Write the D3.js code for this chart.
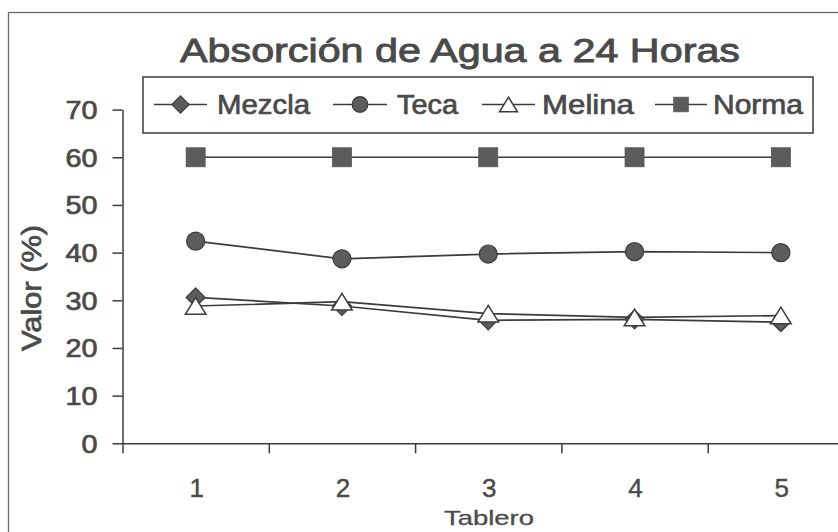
<!DOCTYPE html>
<html>
<head>
<meta charset="utf-8">
<script src="https://cdn.jsdelivr.net/npm/d3@7"></script>
<style>
  html, body { margin: 0; padding: 0; background: #fff; }
  svg { display: block; }
  text { font-family: "Liberation Sans", Arial, sans-serif; fill: #4a4a4a; stroke: #4a4a4a; stroke-width: 0.7px; }
</style>
</head>
<body>
<svg id="chart" width="838" height="532"></svg>
<script>
// Data
const categories = ["1", "2", "3", "4", "5"];
const seriesNames = ["Mezcla", "Teca", "Melina", "Norma"];
const mezcla = [30.6, 28.8, 25.8, 26.0, 25.4];
const teca   = [42.4, 38.7, 39.7, 40.2, 40.0];
const melina = [28.8, 29.7, 27.2, 26.4, 26.8];
const norma  = [60, 60, 60, 60, 60];
const yTicks = [0, 10, 20, 30, 40, 50, 60, 70];
const titleText = "Absorción de Agua a 24 Horas";
const xTitle = "Tablero";
const yTitle = "Valor (%)";

const seriesValues = [mezcla, teca, melina, norma];
const markers = ["diamond", "circle", "triangle", "square"];

const svg = d3.select("#chart");
const ink = "#3c3c3c";
const markFill = "#5c5c5c";

// outer chart frame
svg.append("rect")
  .attr("x", 8.5).attr("y", 12.5)
  .attr("width", 900).attr("height", 600)
  .attr("fill", "none").attr("stroke", "#6a6a6a").attr("stroke-width", 1.3);

// scales
const plotLeft = 122.5, plotRight = 854, plotTop = 109.6, plotBottom = 443.3;
const x = d3.scaleBand().domain(categories).range([plotLeft, plotRight]).padding(0);
const y = d3.scaleLinear().domain([0, 70]).range([plotBottom, plotTop]);
const cx = c => x(c) + x.bandwidth() / 2;

// title
svg.append("text")
  .attr("x", 180).attr("y", 62)
  .attr("font-size", 34)
  .attr("textLength", 560).attr("lengthAdjust", "spacingAndGlyphs")
  .style("stroke-width", "0.9px")
  .text(titleText);

// y axis
const yAxis = svg.append("g")
  .attr("transform", `translate(${plotLeft},0)`)
  .call(d3.axisLeft(y).tickValues(yTicks).tickSize(10).tickSizeOuter(0).tickPadding(15));
yAxis.select(".domain").attr("stroke", ink).attr("stroke-width", 1.5);
yAxis.selectAll(".tick line").attr("stroke", ink).attr("stroke-width", 1.5);
yAxis.selectAll(".tick text")
  .attr("font-size", 25)
  .attr("fill", "#4a4a4a")
  .attr("font-family", "Liberation Sans, Arial, sans-serif")
  .attr("dy", "0.36em")
  .attr("textLength", d => String(d).length * 16)
  .attr("lengthAdjust", "spacingAndGlyphs");

// x axis: line with ticks at category boundaries, labels centered in bands
const bounds = d3.scaleLinear().domain([0, categories.length]).range([plotLeft, plotRight]);
const xAxis = svg.append("g")
  .attr("transform", `translate(0,${plotBottom})`)
  .call(d3.axisBottom(bounds).tickValues(d3.range(0, categories.length + 1)).tickSize(10).tickSizeOuter(0).tickFormat(""));
xAxis.select(".domain").attr("stroke", ink).attr("stroke-width", 1.5);
xAxis.selectAll(".tick line").attr("stroke", ink).attr("stroke-width", 1.5);

svg.append("g").selectAll("text")
  .data(categories)
  .join("text")
  .attr("x", d => cx(d) + 1)
  .attr("y", 497)
  .attr("text-anchor", "middle")
  .attr("font-size", 26)
  .style("stroke-width", "0.4px")
  .text(d => d);

// axis titles
svg.append("text")
  .attr("x", 489).attr("y", 525)
  .attr("text-anchor", "middle")
  .attr("font-size", 21)
  .attr("textLength", 90).attr("lengthAdjust", "spacingAndGlyphs")
  .style("stroke-width", "0.3px")
  .text(xTitle);

svg.append("text")
  .attr("transform", "translate(41,288) rotate(-90)")
  .attr("text-anchor", "middle")
  .attr("font-size", 28)
  .attr("textLength", 126).attr("lengthAdjust", "spacingAndGlyphs")
  .text(yTitle);

// marker drawing
function drawMarker(g, type, px, py, s) {
  if (type === "diamond") {
    g.append("path")
      .attr("d", `M${px},${py - s}L${px + s},${py}L${px},${py + s}L${px - s},${py}Z`)
      .attr("fill", markFill).attr("stroke", ink).attr("stroke-width", 1.2);
  } else if (type === "circle") {
    g.append("circle").attr("cx", px).attr("cy", py).attr("r", s * 0.95)
      .attr("fill", markFill).attr("stroke", ink).attr("stroke-width", 1.2);
  } else if (type === "triangle") {
    const h = s * 1.7, w = s * 1.05;
    g.append("path")
      .attr("d", `M${px},${py - h / 2}L${px + w},${py + h / 2}L${px - w},${py + h / 2}Z`)
      .attr("fill", "#fff").attr("stroke", ink).attr("stroke-width", 1.5);
  } else {
    g.append("rect").attr("x", px - s).attr("y", py - s).attr("width", 2 * s).attr("height", 2 * s)
      .attr("fill", markFill).attr("stroke", "#555").attr("stroke-width", 0.8);
  }
}

// series lines and markers
const line = d3.line().x((d, i) => cx(categories[i])).y(d => y(d));
seriesValues.forEach((vals, k) => {
  const g = svg.append("g");
  g.append("path").datum(vals)
    .attr("d", line)
    .attr("fill", "none").attr("stroke", ink).attr("stroke-width", 1.7);
  const size = markers[k] === "square" ? 9.5 : (markers[k] === "triangle" ? 9.8 : 9.5);
  vals.forEach((v, i) => drawMarker(g, markers[k], cx(categories[i]), y(v), size));
});

// legend
const lg = svg.append("g");
lg.append("rect")
  .attr("x", 143).attr("y", 77).attr("width", 670).attr("height", 56)
  .attr("fill", "#fff").attr("stroke", ink).attr("stroke-width", 1.5);
const legendItems = [
  { x0: 154, x1: 207, tx: 217, tw: 93 },
  { x0: 333, x1: 387, tx: 397, tw: 61 },
  { x0: 482, x1: 535, tx: 542, tw: 92 },
  { x0: 655, x1: 707, tx: 713, tw: 90 }
];
const legendY = 104.5;
legendItems.forEach((it, k) => {
  lg.append("line")
    .attr("x1", it.x0).attr("x2", it.x1).attr("y1", legendY).attr("y2", legendY)
    .attr("stroke", ink).attr("stroke-width", 1.6);
  const msize = markers[k] === "square" ? 7.3 : (markers[k] === "circle" ? 8.2 : 8.6);
  drawMarker(lg, markers[k], (it.x0 + it.x1) / 2, legendY, msize);
  lg.append("text")
    .attr("x", it.tx).attr("y", 114)
    .attr("font-size", 27)
    .attr("textLength", it.tw).attr("lengthAdjust", "spacingAndGlyphs")
    .text(seriesNames[k]);
});
</script>
</body>
</html>
